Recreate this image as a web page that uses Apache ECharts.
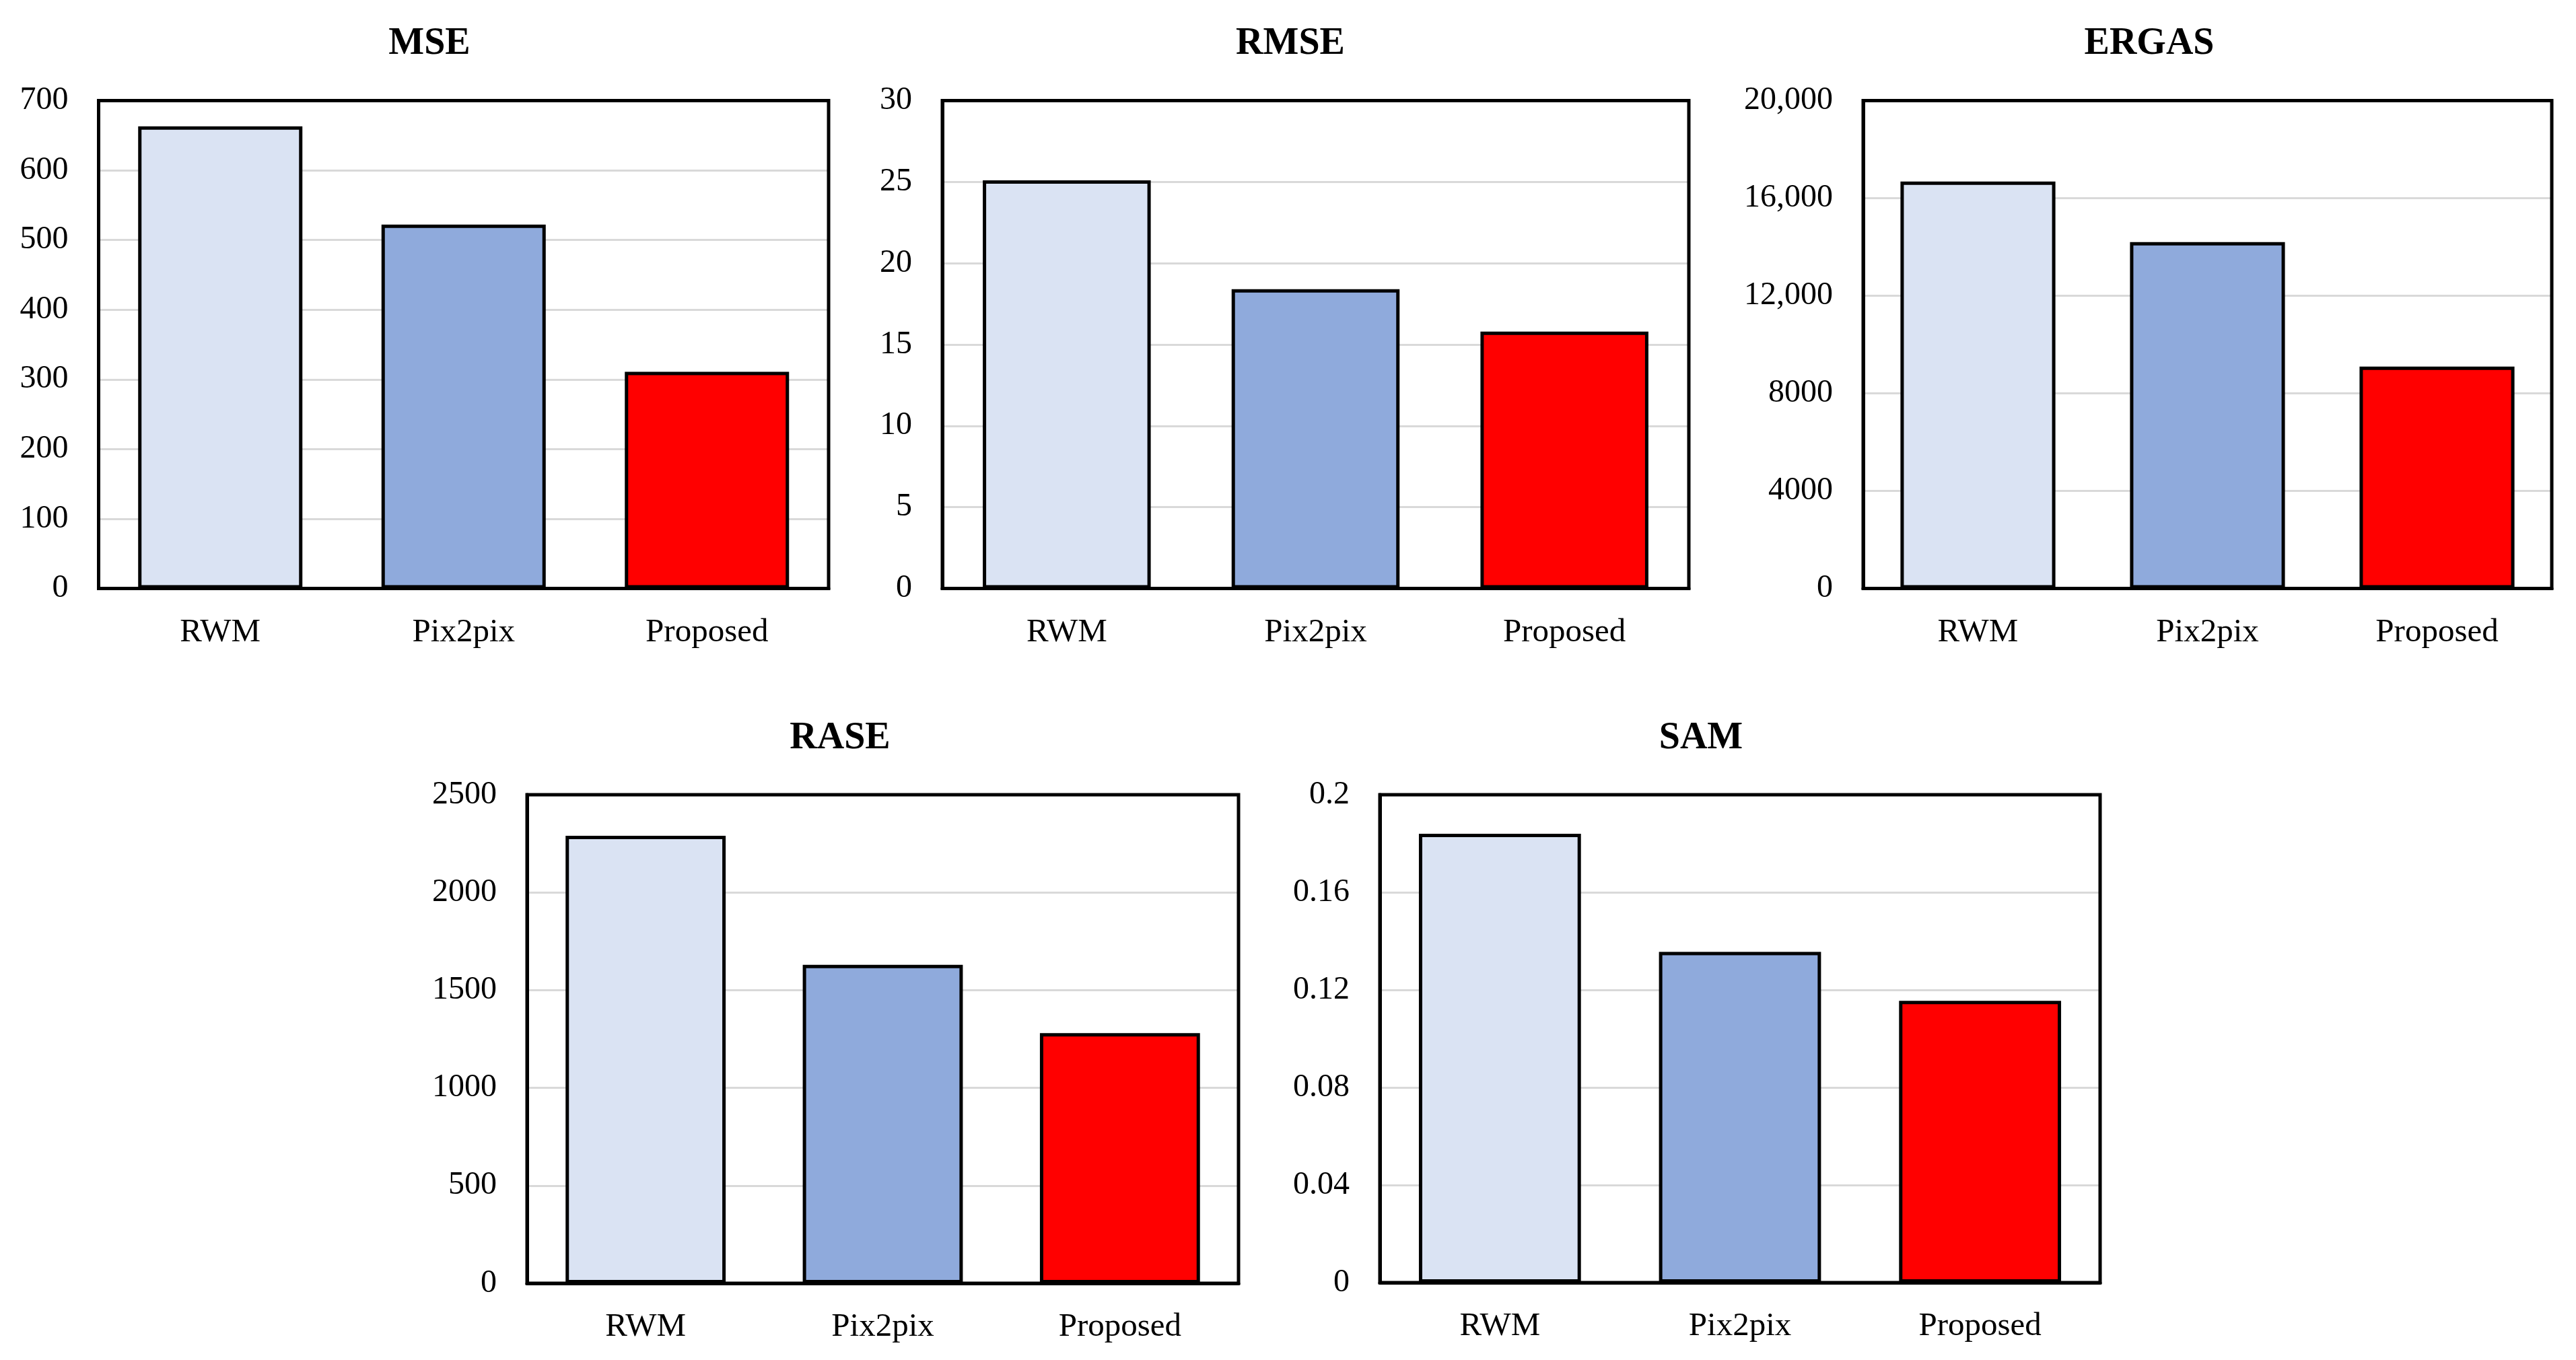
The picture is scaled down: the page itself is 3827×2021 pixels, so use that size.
<!DOCTYPE html>
<html>
<head>
<meta charset="utf-8">
<script src="https://cdn.jsdelivr.net/npm/echarts@6/dist/echarts.min.js"></script>
<style>
html,body{margin:0;padding:0;background:#fff;}
#c{width:3827px;height:2021px;}
</style>
</head>
<body>
<div id="c"></div>
<script>
// ---- data ----
var categories = ['RWM', 'Pix2pix', 'Proposed'];
var metricNames = ['MSE', 'RMSE', 'ERGAS', 'RASE', 'SAM'];
var mseValues = [663, 522, 311];
var rmseValues = [25.1, 18.4, 15.8];
var ergasValues = [16680, 14200, 9100];
var raseValues = [2290, 1630, 1280];
var samValues = [0.184, 0.1356, 0.1155];
var axisMax = [700, 30, 20000, 2500, 0.2];
var axisInterval = [100, 5, 4000, 500, 0.04];

// ---- styles / layout ----
var barColors = ['#DAE3F3', '#8FAADC', '#FF0000'];
var grids = [
  {left: 146.5, top: 149.5, width: 1084.5, height: 725},
  {left: 1400, top: 149.5, width: 1109, height: 725},
  {left: 2768, top: 149.5, width: 1023, height: 725},
  {left: 783, top: 1181, width: 1057, height: 726},
  {left: 2050, top: 1181, width: 1070, height: 725}
];
var titleCenters = [[638, 61], [1917, 61], [3193, 61], [1248, 1093], [2527, 1093]];
var allValues = [mseValues, rmseValues, ergasValues, raseValues, samValues];
var FONT = '"Liberation Serif", "Times New Roman", serif';

function fmt(idx) {
  return function (v) {
    if (idx === 2) {
      return v >= 10000 ? v.toLocaleString('en-US') : String(v);
    }
    if (idx === 4) {
      return String(Math.round(v * 100) / 100);
    }
    return String(v);
  };
}

var option = {
  backgroundColor: '#ffffff',
  animation: false,
  title: [], grid: [], xAxis: [], yAxis: [], series: []
};

for (var i = 0; i < 5; i++) {
  option.title.push({
    text: metricNames[i],
    left: titleCenters[i][0],
    top: titleCenters[i][1] - 23,
    textAlign: 'center',
    padding: 0,
    textStyle: {fontFamily: FONT, fontWeight: 'bold', fontSize: 56, color: '#000'}
  });
  option.grid.push({
    left: grids[i].left, top: grids[i].top, width: grids[i].width, height: grids[i].height,
    show: true, borderColor: '#000', borderWidth: 5, backgroundColor: 'transparent',
    containLabel: false, z: 1
  });
  option.xAxis.push({
    type: 'category', gridIndex: i, data: categories,
    axisLine: {show: true, lineStyle: {color: '#000', width: 5}},
    axisTick: {show: false},
    axisLabel: {fontFamily: FONT, fontSize: 49, color: '#000', margin: 41}
  });
  option.yAxis.push({
    type: 'value', gridIndex: i, min: 0, max: axisMax[i], interval: axisInterval[i],
    axisLine: {show: true, lineStyle: {color: '#000', width: 5}}, axisTick: {show: false},
    splitLine: {show: true, showMinLine: false, showMaxLine: false, lineStyle: {color: '#D9D9D9', width: 3}},
    axisLabel: {fontFamily: FONT, fontSize: 48, color: '#000', margin: 45, formatter: fmt(i)}
  });
  option.series.push({
    type: 'bar', xAxisIndex: i, yAxisIndex: i,
    barCategoryGap: '32.5%',
    data: allValues[i].map(function (v, k) {
      return {value: v, itemStyle: {color: barColors[k], borderColor: '#000', borderWidth: 5}};
    }),
    z: 3
  });
}

var chart = echarts.init(document.getElementById('c'), null, {renderer: 'canvas'});
chart.setOption(option);
</script>
</body>
</html>
